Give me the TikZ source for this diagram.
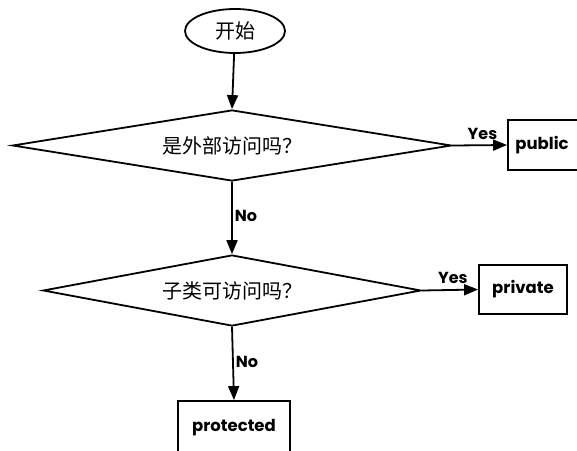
\documentclass[tikz,border=0pt]{standalone}
\usepackage{fontspec}
\newfontfamily\cjk{Noto Sans CJK SC}
\newfontfamily\lat{Poppins}
\usetikzlibrary{shapes.geometric,arrows.meta}
\begin{document}
\begin{tikzpicture}[x=1pt,y=-1pt,
  line width=1.8pt,
  flow/.style={-{Triangle[length=14pt,width=11pt]}},
  decision/.style={draw,diamond,inner sep=0pt,font=\cjk\fontsize{20}{22}\selectfont},
  terminal/.style={draw,ellipse,minimum width=100pt,minimum height=44pt,inner sep=0pt,font=\cjk\fontsize{20}{22}\selectfont},
  result/.style={draw,rectangle,inner sep=0pt,font=\lat\bfseries\fontsize{16.5}{18}\selectfont},
  tag/.style={font=\lat\bfseries\fontsize{16}{18}\selectfont,inner sep=0pt}]
\useasboundingbox (0,0) rectangle (577,450);
\begin{scope}
\clip (0,0) rectangle (577,450);
\node[terminal] (start) at (235,31) {开始};
\node[decision,aspect=6.18,minimum width=439pt,minimum height=71pt] (d1) at (232,145.5) {是外部访问吗？};
\node[decision,aspect=5.32,minimum width=378pt,minimum height=71pt] (d2) at (232,290.5) {子类可访问吗？};
\node[result,minimum width=80pt,minimum height=50pt] (pub) at (548,145) {\hspace*{-12pt}public};
\node[result,minimum width=88pt,minimum height=49pt] (priv) at (523,289.5) {private};
\node[result,minimum width=112pt,minimum height=54pt] (prot) at (234,428) {\raisebox{1pt}{protected}};
\draw[flow] (start) -- (d1.north);
\draw[flow] (d1.east) -- (pub.west) node[tag,pos=0.55,above=5pt] (y1) {Yes};
\draw[flow] (d1.south) -- (d2.north) node[tag,pos=0.47,right=2pt] (n1) {No};
\draw[flow] (d2.east) -- (priv.west) node[tag,pos=0.55,above=5pt] (y2) {Yes};
\draw[flow] (d2.south) -- (prot.north) node[tag,pos=0.48,right=2pt] (n2) {No};
\end{scope}
\end{tikzpicture}
\end{document}
